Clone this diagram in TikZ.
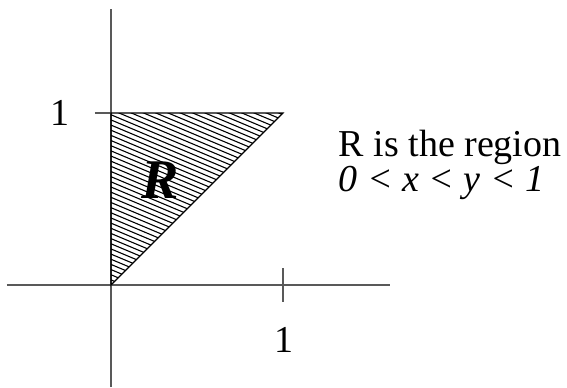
\documentclass[tikz,border=0pt]{standalone}
\usepackage{fontspec}
\setmainfont{Liberation Serif}
\usepackage{tikz}
\usetikzlibrary{positioning}

\begin{document}
\begin{tikzpicture}[x=86pt, y=86pt,
	axis/.style={gray!70!black, line width=0.6pt},
	hatchline/.style={black, line width=0.55pt},
	numlabel/.style={font=\fontsize{19}{23}\selectfont, inner sep=0pt}]
		\useasboundingbox (-0.645,-0.593) rectangle (2.651,1.657);
		
		% axes and ticks
		\coordinate (xl) at (-0.605,0);
		\coordinate (xr) at (1.622,0);
		\coordinate (yb) at (0,-0.593);
		\coordinate (yt) at (0,1.605);
		\draw[axis] (xl) -- (xr);
		\draw[axis] (yb) -- (yt);
		\draw[axis] (1,0.099) -- (1,-0.099);
		\draw[axis] (-0.093,1) -- (0,1);
		
		% the region R, hatched
		\coordinate (O) at (0,0);
		\coordinate (A) at (0,1);
		\coordinate (B) at (1,1);
		\begin{scope}
			\clip (O) -- (A) -- (B) -- cycle;
			\foreach \k in {0,...,48}
				\draw[hatchline] (0,{\k*0.03}) -- ++(2,-0.84);
		\end{scope}
		\draw[line width=0.6pt] (O) -- (A) -- (B) -- cycle;
		
		% labels
		\node[numlabel] (one y) at (-0.297,1.0) {1};
		\node[numlabel] (one x) at (1.006,-0.32) {1};
		\node[font=\fontsize{28}{30}\selectfont\bfseries\itshape, inner sep=0pt] (R) at (0.285,0.61) {R};
		\node[anchor=west, align=left, inner sep=0pt, font=\fontsize{19}{16}\selectfont] (text) at (1.322,0.697)
			{R is the region\\\textit{0 < x < y < 1}};
	\end{tikzpicture}
\end{document}
